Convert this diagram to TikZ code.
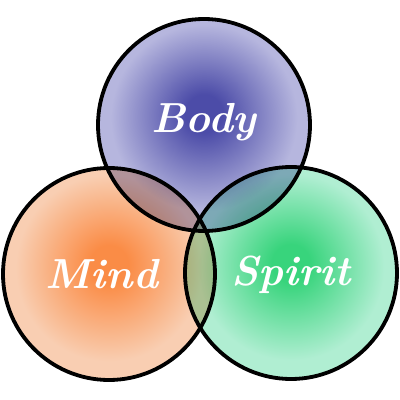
\documentclass[tikz,border=0pt]{standalone}
\usetikzlibrary{shadings}
\definecolor{bodyin}{RGB}{76,76,168}
\definecolor{bodyout}{RGB}{182,182,222}
\definecolor{mindin}{RGB}{250,140,70}
\definecolor{mindout}{RGB}{249,206,178}
\definecolor{spiritin}{RGB}{56,212,124}
\definecolor{spiritout}{RGB}{176,238,210}
\pgfdeclareradialshading{bodyglow}{\pgfpoint{0bp}{3bp}}{color(0bp)=(bodyin); color(4.5bp)=(bodyin); color(22bp)=(bodyout); color(50bp)=(bodyout)}
\pgfdeclareradialshading{mindglow}{\pgfpoint{0bp}{2.5bp}}{color(0bp)=(mindin); color(4.5bp)=(mindin); color(22bp)=(mindout); color(50bp)=(mindout)}
\pgfdeclareradialshading{spiritglow}{\pgfpoint{0bp}{2.5bp}}{color(0bp)=(spiritin); color(4.5bp)=(spiritin); color(22bp)=(spiritout); color(50bp)=(spiritout)}
\tikzset{
  ring/.style={circle, draw=black, line width=3.8pt, minimum size=212pt, inner sep=0pt},
  word/.style={text=white, font=\fontsize{42}{46}\selectfont\bfseries\itshape}
}
\begin{document}
\begin{tikzpicture}[x=1pt,y=1pt]
	\useasboundingbox (0,0) rectangle (400,400);
	\fill[white] (0,0) rectangle (400,400);
	\begin{scope}[blend group=multiply]
		\node[ring, shade, shading=bodyglow] (body) at (204,275) {};
		\node[ring, shade, shading=mindglow] (mind) at (109,126) {};
		\node[ring, shade, shading=spiritglow] (spirit) at (291,127) {};
	\end{scope}
	\node[word] (tbody) at (204,278) {Body};
	\node[word] (tmind) at (102,126) {Mind};
	\node[word] (tspirit) at (291,125) {Spirit};
\end{tikzpicture}
\end{document}
